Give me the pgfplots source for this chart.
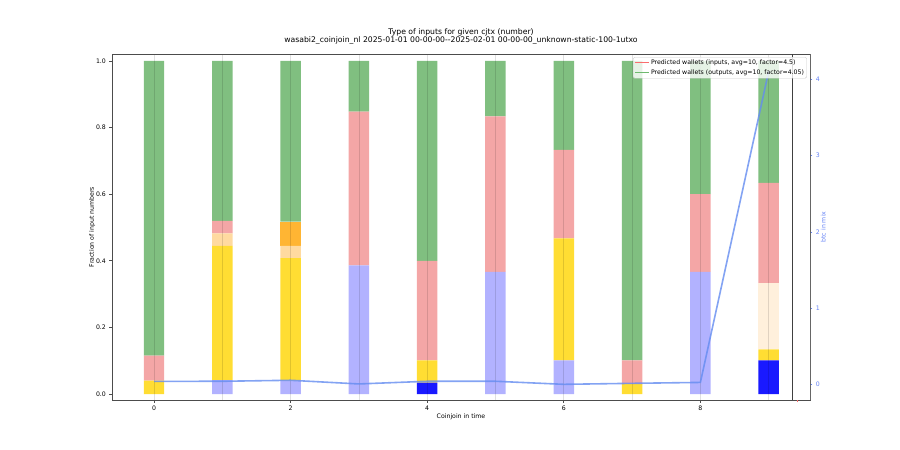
\documentclass[border=0pt]{standalone}
\usepackage{fontspec}
\setmainfont{DejaVu Sans}
\usepackage{pgfplots}
\pgfplotsset{compat=1.18}
\usepackage{pgfplotstable}
\definecolor{cgreen}{RGB}{128,191,128}
\definecolor{cpink}{RGB}{244,166,166}
\definecolor{cyellow}{RGB}{255,221,51}
\definecolor{cpeach}{RGB}{255,218,160}
\definecolor{corange}{RGB}{255,181,51}
\definecolor{clav}{RGB}{178,178,255}
\definecolor{cblue}{RGB}{25,25,255}
\definecolor{ccream}{RGB}{255,240,220}
\definecolor{cline}{RGB}{100,140,240}
\definecolor{cright}{RGB}{100,130,245}
\definecolor{cred}{RGB}{250,110,110}
\definecolor{cgl}{RGB}{110,185,110}
\newcommand\fs{\fontsize{6.2}{7.4}\selectfont}
\newcommand\ft{\fontsize{7.7}{8.9}\selectfont}
\pgfplotstableread{
x blue lav yellow cream peach orange pink green
0 0     0     0.040 0    0     0     0.075 0.885
1 0     0.042 0.403 0    0.037 0     0.038 0.480
2 0     0.040 0.368 0    0.037 0.073 0     0.482
3 0     0.386 0     0    0     0     0.462 0.152
4 0.034 0     0.067 0    0     0     0.299 0.600
5 0     0.367 0     0    0     0     0.467 0.166
6 0     0.101 0.366 0    0     0     0.266 0.267
7 0     0     0.030 0    0     0     0.071 0.899
8 0     0.367 0     0    0     0     0.233 0.400
9 0.101 0     0.033 0.20 0     0     0.300 0.366
}\bars
\begin{document}
\begin{tikzpicture}
\useasboundingbox (0,0) rectangle (900pt,450pt);
\begin{axis}[
  scale only axis, width=698pt, height=346pt, at={(112pt,50pt)}, anchor=south west,
  xmin=-0.615, xmax=9.605, ymin=-0.018, ymax=1.021,
  ybar stacked, bar width=0.3,
  xtick={0,2,4,6,8}, xticklabels={0,2,4,6,8},
  minor xtick={1,3,5,7,9},
  ytick={0,0.2,0.4,0.6,0.8,1.0}, yticklabels={0.0,0.2,0.4,0.6,0.8,1.0},
  tick pos=left, tick align=outside, major tick length=2.6pt, minor tick length=0pt,
  xmajorgrids, xminorgrids, grid style={black, draw opacity=0.12, line width=0.6pt},
  minor grid style={black, draw opacity=0.12, line width=0.6pt},
  axis on top,
  axis line style={black!70, line width=0.6pt}, tick style={black!70, line width=0.6pt},
  ticklabel style={font=\fs},
  title={Type of inputs for given cjtx (number)\\wasabi2\_coinjoin\_nl 2025-01-01 00-00-00-\kern0pt-2025-02-01 00-00-00\_unknown-static-100-1utxo},
  title style={at={(0.5,1)}, anchor=south, align=center, inner sep=0pt, yshift=3pt, font=\ft},
  xlabel={Coinjoin in time}, ylabel={Fraction of input numbers},
  xlabel style={font=\fs, at={([yshift=-18pt]axis description cs:0.5,0)}, anchor=base},
  ylabel style={font=\fs, at={([xshift=-18.1pt]axis description cs:0,0.5)}, anchor=base},
]
\addplot[fill=cblue, draw=none] table[x=x,y=blue]{\bars};
\addplot[fill=clav, draw=none] table[x=x,y=lav]{\bars};
\addplot[fill=cyellow, draw=none] table[x=x,y=yellow]{\bars};
\addplot[fill=ccream, draw=none] table[x=x,y=cream]{\bars};
\addplot[fill=cpeach, draw=none] table[x=x,y=peach]{\bars};
\addplot[fill=corange, draw=none] table[x=x,y=orange]{\bars};
\addplot[fill=cpink, draw=none] table[x=x,y=pink]{\bars};
\addplot[fill=cgreen, draw=none] table[x=x,y=green]{\bars};
\end{axis}
\begin{axis}[
  scale only axis, width=698pt, height=346pt, at={(112pt,50pt)}, anchor=south west,
  xmin=-0.615, xmax=9.605, ymin=-0.2, ymax=4.327,
  hide x axis, axis y line*=right, clip=false,
  axis line style={-, black!60, line width=0.9pt},
  ytick={0,1,2,3,4}, yticklabels={0,1,2,3,4},
  tick align=outside, major tick length=2.4pt,
  y tick style={cright, line width=0.6pt},
  yticklabel style={text=cright, font=\fs},
  ylabel={btc in mix},
  ylabel style={text=cright, font=\fs, at={([xshift=15.7pt]axis description cs:1,0.5)}, anchor=base},
  legend style={at={(0.9957,0.9913)}, anchor=north east, font=\fs, draw=black!20, fill=white,
    fill opacity=0.8, text opacity=1, draw opacity=1, rounded corners=1.5pt, inner xsep=1.2pt, inner ysep=0.8pt,
    row sep=0pt, nodes={inner xsep=1.6pt, inner ysep=1.75pt, text height=4.7pt, text depth=1.5pt}},
  legend cell align=left,
  legend image code/.code={\draw[#1, line width=1.1pt, draw opacity=1] (0pt,0pt) -- (14pt,0pt);},
]
\addplot[black!75, line width=0.8pt, forget plot] coordinates {(9.34,-0.2) (9.34,4.327)};
\addplot[cred, line width=1pt, forget plot] coordinates {(9.415,-0.2) (9.415,-0.222)};
\addplot[cline, line width=1.6pt, opacity=0.8, mark=none, forget plot] coordinates {
(0,0.044) (1,0.045) (2,0.058) (3,0.010) (4,0.045) (5,0.045) (6,0.005) (7,0.018) (8,0.030) (9,4.10)};
\addlegendimage{draw=cred}
\addlegendentry{Predicted wallets (inputs, avg=10, factor=4.5)}
\addlegendimage{draw=cgl}
\addlegendentry{Predicted wallets (outputs, avg=10, factor=4.05)}
\end{axis}
\end{tikzpicture}
\end{document}
